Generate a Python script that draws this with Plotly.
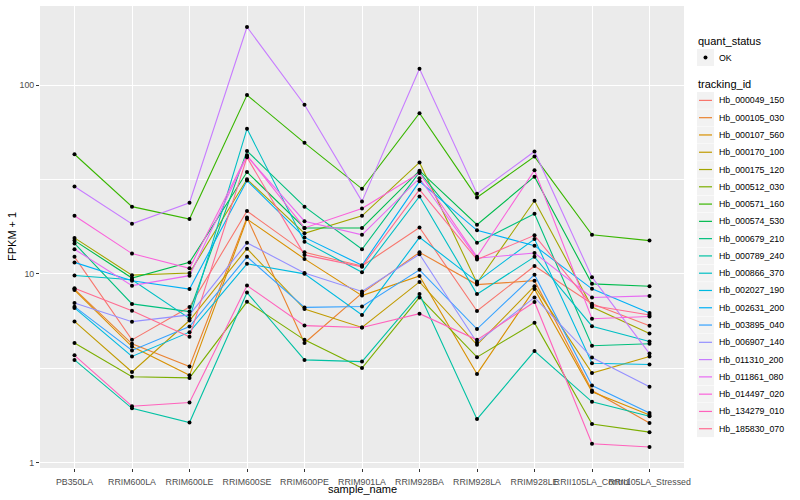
import numpy as np
import plotly.graph_objects as go

samples = ["PB350LA", "RRIM600LA", "RRIM600LE", "RRIM600SE", "RRIM600PE", "RRIM901LA",
           "RRIM928BA", "RRIM928LA", "RRIM928LE", "RRII105LA_Control", "RRII105LA_Stressed"]

tracking_ids = ["Hb_000049_150", "Hb_000105_030", "Hb_000107_560", "Hb_000170_100", "Hb_000175_120",
                "Hb_000512_030", "Hb_000571_160", "Hb_000574_530", "Hb_000679_210", "Hb_000789_240",
                "Hb_000866_370", "Hb_002027_190", "Hb_002631_200", "Hb_003895_040", "Hb_006907_140",
                "Hb_011310_200", "Hb_011861_080", "Hb_014497_020", "Hb_134279_010", "Hb_185830_070"]

colors = ["#F8766D", "#EA8331", "#D89000", "#C09B00", "#A3A500", "#7CAE00", "#39B600", "#00BB4E",
          "#00BF7D", "#00C1A3", "#00BFC4", "#00BAE0", "#00B0F6", "#35A2FF", "#9590FF", "#C77CFF",
          "#E76BF3", "#FA62DB", "#FF62BC", "#FF6C91"]

# FPKM + 1 per sample
hb_000049_150 = [12.3, 4.47, 6.67, 21.5, 13.0, 11.0, 17.6, 6.36, 11.0, 6.94, 5.31]
hb_000105_030 = [8.3, 4.26, 3.23, 19.9, 4.30, 7.90, 13.0, 8.77, 9.2, 2.41, 1.62]
hb_000107_560 = [8.2, 4.12, 2.9, 19.5, 12.0, 7.67, 9.74, 2.95, 8.3, 2.37, 1.79]
hb_000170_100 = [5.6, 3.02, 5.66, 13.6, 6.51, 5.2, 9.06, 4.21, 8.6, 2.98, 3.65]
hb_000175_120 = [15.5, 9.84, 10.1, 31.7, 16.4, 20.3, 38.9, 8.94, 24.4, 6.67, 4.83]
hb_000512_030 = [4.3, 2.85, 2.81, 7.11, 4.47, 3.17, 7.5, 3.62, 5.5, 1.60, 1.45]
hb_000571_160 = [43.0, 22.7, 19.5, 88.5, 49.4, 28.2, 71.0, 25.4, 41.8, 16.1, 15.0]
hb_000574_530 = [15.0, 9.5, 11.5, 34.6, 17.5, 17.5, 35.2, 18.2, 32.7, 8.85, 8.6]
hb_000679_210 = [14.5, 6.93, 6.31, 44.8, 22.7, 13.5, 34.6, 14.6, 20.8, 4.16, 4.26]
hb_000789_240 = [3.5, 1.94, 1.63, 7.96, 3.50, 3.43, 7.82, 1.70, 3.9, 2.10, 1.76]
hb_000866_370 = [9.8, 9.3, 5.80, 58.6, 14.8, 10.2, 25.7, 7.81, 12.3, 5.28, 4.38]
hb_002027_190 = [6.6, 3.65, 4.91, 11.3, 10.0, 6.06, 15.6, 9.1, 15.3, 3.36, 3.31]
hb_002631_200 = [11.5, 9.2, 8.30, 31.2, 15.6, 11.1, 30.9, 17.0, 14.1, 8.33, 6.2]
hb_003895_040 = [6.7, 3.93, 5.26, 12.3, 6.64, 6.71, 10.5, 5.10, 9.9, 2.56, 1.83]
hb_006907_140 = [7.0, 5.58, 6.06, 14.6, 10.1, 8.06, 12.7, 4.33, 7.5, 3.6, 2.52]
hb_011310_200 = [29.0, 18.4, 23.8, 203.0, 78.6, 24.2, 122.0, 26.6, 44.5, 9.6, 3.78]
hb_011861_080 = [13.5, 8.66, 9.78, 42.0, 19.0, 16.1, 32.1, 12.1, 12.9, 7.5, 7.64]
hb_014497_020 = [20.3, 12.8, 10.7, 42.5, 17.5, 22.2, 34.2, 12.3, 35.4, 5.78, 5.94]
hb_134279_010 = [3.7, 1.99, 2.08, 8.67, 5.32, 5.2, 6.15, 4.47, 7.1, 1.26, 1.21]
hb_185830_070 = [8.4, 6.37, 4.64, 41.4, 12.6, 10.9, 27.9, 11.9, 16.0, 6.8, 6.05]

series = [hb_000049_150, hb_000105_030, hb_000107_560, hb_000170_100, hb_000175_120,
          hb_000512_030, hb_000571_160, hb_000574_530, hb_000679_210, hb_000789_240,
          hb_000866_370, hb_002027_190, hb_002631_200, hb_003895_040, hb_006907_140,
          hb_011310_200, hb_011861_080, hb_014497_020, hb_134279_010, hb_185830_070]

FONT = "Liberation Sans, Arial, sans-serif"
W, H = 800, 500
L, R, T, B = 40, 116, 6, 32

fig = go.Figure()
for name, col, vals in zip(tracking_ids, colors, series):
    fig.add_trace(go.Scatter(x=samples, y=vals, mode="lines", name=name,
                             line=dict(color=col, width=1.1), showlegend=False))

all_x = [s for vals in series for s in samples]
all_y = [v for vals in series for v in vals]
fig.add_trace(go.Scatter(x=all_x, y=all_y, mode="markers", name="OK",
                         marker=dict(color="black", size=4), showlegend=False))

vmin = min(all_y)
vmax = max(all_y)
lo, hi = np.log10(vmin), np.log10(vmax)
pad = 0.05 * (hi - lo)

fig.update_layout(
    width=W, height=H,
    margin=dict(l=L, r=R, t=T, b=B),
    plot_bgcolor="#EBEBEB", paper_bgcolor="white",
    showlegend=False,
    font=dict(family=FONT),
)
fig.update_xaxes(
    type="category", categoryorder="array", categoryarray=samples,
    range=[-0.6, len(samples) - 0.4],
    showgrid=True, gridcolor="white", gridwidth=1.1,
    zeroline=False, showline=False,
    ticks="outside", ticklen=3, tickcolor="#333333", tickwidth=1,
    tickangle=0, tickfont=dict(size=8.8, color="#4D4D4D", family=FONT),
    ticklabelstandoff=2,
    automargin=False,
)
fig.update_yaxes(
    type="log", range=[lo - pad, hi + pad],
    tickvals=[1, 10, 100], ticktext=["1", "10", "100"],
    showgrid=True, gridcolor="white", gridwidth=1.1,
    minor=dict(tickvals=[10 ** 0.5, 10 ** 1.5, 10 ** 2.5], showgrid=True,
               gridcolor="white", gridwidth=0.55, ticks=""),
    zeroline=False, showline=False,
    ticks="outside", ticklen=3, tickcolor="#333333", tickwidth=1,
    tickfont=dict(size=8.8, color="#4D4D4D", family=FONT),
    automargin=False,
)

pw = W - L - R
ph = H - T - B


def px(xp):
    return (xp - L) / pw


def py(yp):
    return (H - B - yp) / ph


# axis titles
fig.add_annotation(x=0.5, y=py(489), xref="paper", yref="paper", text="sample_name",
                   showarrow=False, font=dict(size=11, color="black", family=FONT),
                   xanchor="center", yanchor="middle")
fig.add_annotation(x=px(12), y=0.5, xref="paper", yref="paper", text="FPKM + 1",
                   showarrow=False, textangle=-90, font=dict(size=11, color="black", family=FONT),
                   xanchor="center", yanchor="middle")

# legend: quant_status
kx0, kx1 = 697, 714
fig.add_annotation(x=px(696), y=py(41), xref="paper", yref="paper", text="quant_status",
                   showarrow=False, font=dict(size=11, color="black", family=FONT),
                   xanchor="left", yanchor="middle")
fig.add_shape(type="rect", xref="paper", yref="paper", x0=px(kx0), x1=px(kx1),
              y0=py(49), y1=py(66), fillcolor="#F2F2F2", line=dict(width=0))
fig.add_shape(type="circle", xref="paper", yref="paper", x0=px(703.5), x1=px(707.5),
              y0=py(55.5), y1=py(59.5), fillcolor="black", line=dict(width=0))
fig.add_annotation(x=px(717), y=py(57.5), xref="paper", yref="paper", text="OK",
                   showarrow=False, font=dict(size=8.8, color="black", family=FONT),
                   xanchor="left", yanchor="middle")

# legend: tracking_id
fig.add_annotation(x=px(696), y=py(84), xref="paper", yref="paper", text="tracking_id",
                   showarrow=False, font=dict(size=11, color="black", family=FONT),
                   xanchor="left", yanchor="middle")
step = 17.28
for i, (name, col) in enumerate(zip(tracking_ids, colors)):
    cy = 100.4 + i * step
    fig.add_shape(type="rect", xref="paper", yref="paper", x0=px(kx0), x1=px(kx1),
                  y0=py(cy - 8.4), y1=py(cy + 8.4), fillcolor="#F2F2F2", line=dict(width=0))
    fig.add_shape(type="line", xref="paper", yref="paper", x0=px(699), x1=px(712),
                  y0=py(cy), y1=py(cy), line=dict(color=col, width=1.2))
    fig.add_annotation(x=px(717), y=py(cy), xref="paper", yref="paper", text=name,
                       showarrow=False, font=dict(size=8.8, color="black", family=FONT),
                       xanchor="left", yanchor="middle")

fig.write_html("out.html", config={"displayModeBar": False},
               post_script="document.body.style.margin='0px';document.body.style.overflow='hidden';")
